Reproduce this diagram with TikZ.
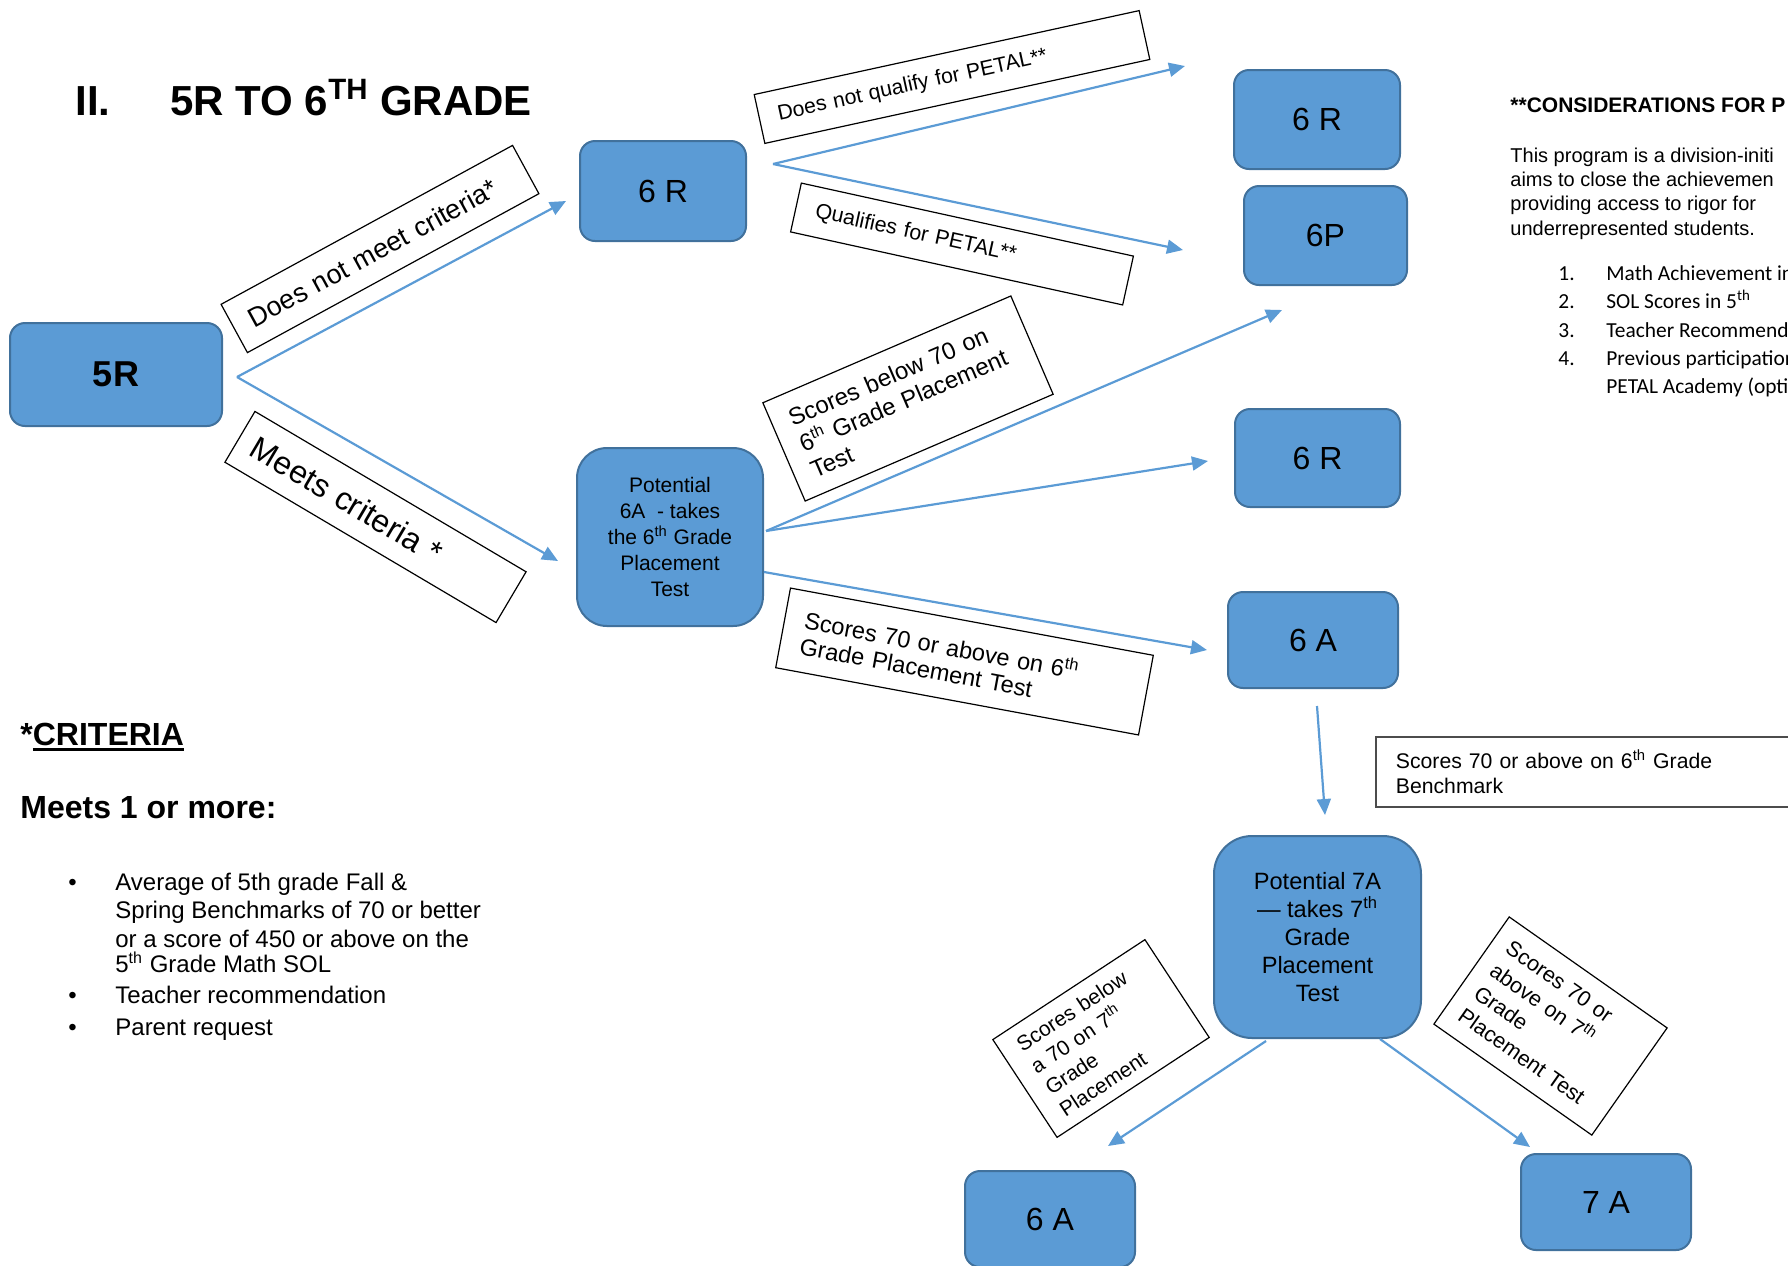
\documentclass[tikz,border=0pt]{standalone}
\usepackage{fontspec}
\setmainfont{Liberation Sans}
\newfontfamily\calibri{Carlito}
\usetikzlibrary{arrows.meta,calc}

\definecolor{boxfill}{HTML}{5B9BD5}
\definecolor{boxedge}{HTML}{41719C}
\newcommand{\fs}[2]{\fontsize{#1}{#2}\selectfont}
\newcommand{\ulbox}[1]{\setbox0\hbox{#1}\rlap{\rule[-3pt]{\wd0}{1.3pt}}\box0}

\begin{document}
\begin{tikzpicture}[x=0.5pt, y=-0.5pt,
    >={Triangle[length=8pt,width=7pt]},
    grade/.style={draw=boxedge, fill=boxfill, line width=1pt, rounded corners=7.5pt,
      inner sep=0pt, align=center},
    tag/.style={draw, fill=white, line width=0.6pt, align=left, inner ysep=0pt},
    flow/.style={->, draw=boxfill, line width=1.1pt},
    txt/.style={anchor=base west, inner sep=0pt}]

    \useasboundingbox (0,0) rectangle (1788,1265);

    % Heading
    \node[txt, font=\bfseries\fs{21}{25}] (hnum) at (75,115) {II.};
    \node[txt, font=\bfseries\fs{21}{25}] (htitle) at (170,115) {5R TO 6\textsuperscript{TH} GRADE};

    % The grade boxes
    \node[grade, minimum width=106pt, minimum height=51.5pt, font=\bfseries\fs{18}{20}] (fiveR) at (116,374.5) {5R};
    \node[grade, minimum width=83pt, minimum height=50pt, font=\fs{16}{18}] (sixR) at (663,191) {6 R};
    \node[grade, minimum width=83pt, minimum height=49.5pt, font=\fs{16}{18}] (sixRnext) at (1317,119.5) {6 R};
    \node[grade, minimum width=81.5pt, minimum height=49.5pt, font=\fs{16}{18}] (sixP) at (1325.5,235.5) {6P};
    \node[grade, minimum width=82.5pt, minimum height=49pt, font=\fs{16}{18}] (sixRalt) at (1317.5,458) {6 R};
    \node[grade, minimum width=85pt, minimum height=48pt, font=\fs{16}{18}] (sixA) at (1313,640) {6 A};
    \node[grade, minimum width=85pt, minimum height=48pt, font=\fs{16}{18}] (sixAlow) at (1050,1219) {6 A};
    \node[grade, minimum width=85pt, minimum height=48pt, font=\fs{16}{18}] (sevenA) at (1606,1202) {7 A};
    \node[grade, rounded corners=15pt, minimum width=93pt, minimum height=89pt, font=\fs{10.5}{13}]
      (pot6A) at (670,537) {Potential\\6A\ \ - takes\\the 6\textsuperscript{th} Grade\\Placement\\Test};
    \node[grade, rounded corners=19pt, minimum width=103.5pt, minimum height=101pt, font=\fs{11.8}{14}]
      (pot7A) at (1317.5,937) {Potential 7A\\--- takes 7\textsuperscript{th}\\Grade\\Placement\\Test};

    % Fork points of the arrows
    \coordinate (f5) at ([shift={(14,2.5)}]fiveR.east);
    \coordinate (f6) at ([shift={(26,-27)}]sixR.east);
    \coordinate (fa) at ([shift={(2,-6)}]pot6A.east);
    \coordinate (fb) at ([shift={(0,35)}]pot6A.east);

    % Arrows
    \draw[flow] (f5) -- ([shift={(-13,10)}]sixR.west);
    \draw[flow] (f5) -- ([shift={(-18,24)}]pot6A.west);
    \draw[flow] (f6) -- ([shift={(-48,-53.5)}]sixRnext.west);
    \draw[flow] (f6) -- ([shift={(-60,14.5)}]sixP.west);
    \draw[flow] (fa) -- ([shift={(-43.5,24)}]sixP.south);
    \draw[flow] (fa) -- ([shift={(-26,3)}]sixRalt.west);
    \draw[flow] (fb) -- ([shift={(-20,10)}]sixA.west);
    \draw[flow] ([shift={(4,17)}]sixA.south) -- ([shift={(7.5,-20)}]pot7A.north);
    \draw[flow] ([shift={(-51.5,2)}]pot7A.south) -- ([shift={(58,-24)}]sixAlow.north);
    \draw[flow] ([shift={(62.5,0)}]pot7A.south) -- ([shift={(-76,-6)}]sevenA.north);

    % Labels on the arrows
    \node[tag, rotate=28.6, inner xsep=9pt, text width=148pt, minimum height=27.5pt, font=\fs{13.5}{16}]
      (lbNotMeet) at (380,249) {Does not meet criteria*};
    \node[tag, rotate=-30.6, inner xsep=8pt, text width=141.5pt, minimum height=29.5pt, font=\fs{16}{18}]
      (lbMeets) at (375.5,517) {Meets criteria *};
    \node[tag, rotate=12.3, inner xsep=9.5pt, text width=178pt, minimum height=25pt, font=\fs{10.6}{12.5}]
      (lbNoPetal) at (952,77) {Does not qualify for PETAL**};
    \node[tag, rotate=-12.4, inner xsep=10pt, text width=150pt, minimum height=25pt, font=\fs{10.7}{12.5}]
      (lbPetal) at (962,244) {Qualifies for PETAL**};
    \node[tag, rotate=23.3, inner xsep=9pt, text width=117pt, minimum height=53.5pt, font=\fs{12}{14}]
      (lbBelowSix) at (908,398.5) {Scores below 70 on\\6\textsuperscript{th} Grade Placement\\Test};
    \node[tag, rotate=-10.5, inner xsep=10pt, text width=164.5pt, minimum height=40.5pt, font=\fs{11.8}{13}]
      (lbAboveSix) at (964.5,661.5) {Scores 70 or above on 6\textsuperscript{th}\\Grade Placement Test};
    \node[tag, draw=black!70, line width=0.9pt, anchor=west, inner xsep=10pt, text width=210pt,
      minimum height=35pt, font=\fs{10.6}{12.5}]
      (lbBench) at (1375,772) {Scores 70 or above on 6\textsuperscript{th} Grade\\Benchmark};
    \node[tag, rotate=33.3, inner xsep=9pt, text width=73pt, minimum height=58.5pt, font=\fs{10.5}{13}]
      (lbBelowSeven) at (1101,1038.5) {Scores below\\a 70 on 7\textsuperscript{th}\\Grade\\Placement};
    \node[tag, rotate=-35.1, inner xsep=8pt, text width=80.5pt, minimum height=65.5pt, font=\fs{10.8}{13.8}]
      (lbAboveSeven) at (1550.5,1026) {Scores 70 or\\above on 7\textsuperscript{th}\\Grade\\Placement Test};

    % Criteria
    \node[txt, font=\bfseries\fs{16}{19}] (crit) at (20,745) {*\ulbox{CRITERIA}};
    \node[txt, font=\bfseries\fs{16}{19}] (meets) at (20,818) {Meets 1 or more:};
    \foreach \yy in {890, 1003, 1035}
      \node[txt, font=\fs{12}{14}] at (68,\yy) {•};
    \node[txt, font=\fs{12}{14}] (cr1a) at (115,890) {Average of 5th grade Fall \&};
    \node[txt, font=\fs{12}{14}] (cr1b) at (115,918) {Spring Benchmarks of 70 or better};
    \node[txt, font=\fs{12}{14}] (cr1c) at (115,947) {or a score of 450 or above on the};
    \node[txt, font=\fs{12}{14}] (cr1d) at (115,972) {5\textsuperscript{th} Grade Math SOL};
    \node[txt, font=\fs{12}{14}] (cr2) at (115,1003) {Teacher recommendation};
    \node[txt, font=\fs{12}{14}] (cr3) at (115,1035) {Parent request};

    % Considerations for PETAL
    \node[txt, font=\bfseries\fs{10.5}{12}] (consid) at (1510,112) {**CONSIDERATIONS FOR P};
    \node[txt, font=\fs{10}{12}] (par1) at (1510,162) {This program is a division-initi};
    \node[txt, font=\fs{10}{12}] (par2) at (1510,186) {aims to close the achievemen};
    \node[txt, font=\fs{10}{12}] (par3) at (1510,210) {providing access to rigor for};
    \node[txt, font=\fs{10}{12}] (par4) at (1510,235) {underrepresented students.};
    \foreach \n/\yy in {1/280, 2/308, 3/337, 4/365}
      \node[txt, font=\calibri\fs{10.7}{13}] at (1558,\yy) {\n.};
    \node[txt, font=\calibri\fs{10.7}{13}] (con1) at (1606,280) {Math Achievement in};
    \node[txt, font=\calibri\fs{10.7}{13}] (con2) at (1606,308) {SOL Scores in 5\textsuperscript{th}};
    \node[txt, font=\calibri\fs{10.7}{13}] (con3) at (1606,337) {Teacher Recommend};
    \node[txt, font=\calibri\fs{10.7}{13}] (con4) at (1606,365) {Previous participation};
    \node[txt, font=\calibri\fs{10.7}{13}] (con4b) at (1606,393) {PETAL Academy (opti};
  \end{tikzpicture}
\end{document}
